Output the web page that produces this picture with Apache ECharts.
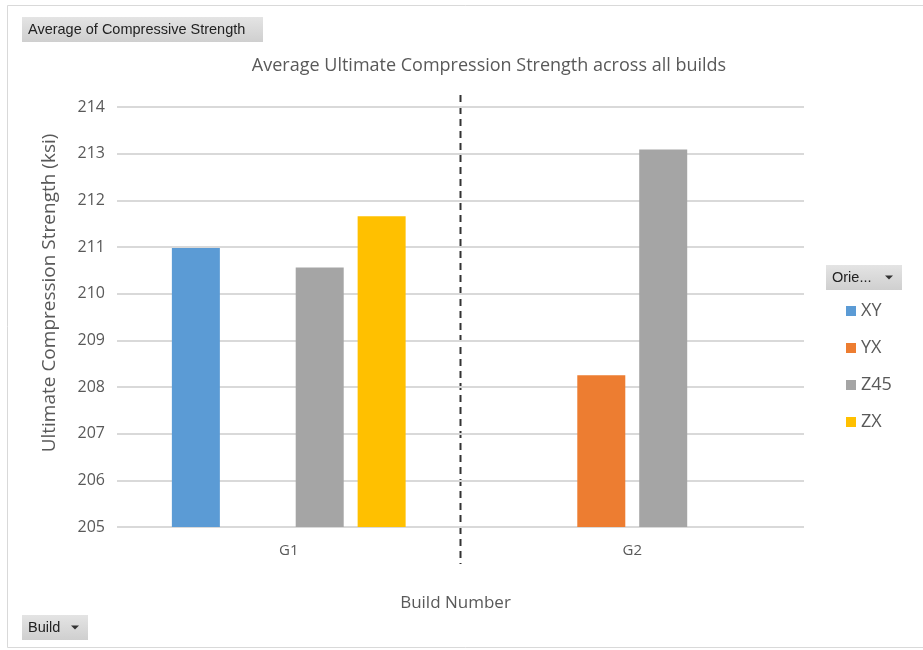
<!DOCTYPE html>
<html>
<head>
<meta charset="utf-8">
<script src="https://cdn.jsdelivr.net/npm/echarts@6/dist/echarts.min.js"></script>
<style>
  html, body { margin: 0; padding: 0; background: #fff; }
  #chart { width: 923px; height: 650px; }
</style>
</head>
<body>
<div id="chart"></div>
<script>
// Builds on the category axis
const builds = ['G1', 'G2'];
// Orientation series (null = no specimens for that build)
const orientations = ['XY', 'YX', 'Z45', 'ZX'];
const xyValues  = [210.98, null];
const yxValues  = [null, 208.25];
const z45Values = [210.56, 213.09];
const zxValues  = [211.66, null];
// Value axis range
const yMin = 205, yMax = 214, yStep = 1;

const colors = ['#5b9bd5', '#ed7d31', '#a5a5a5', '#ffc000'];
const seriesValues = [xyValues, yxValues, z45Values, zxValues];
const FONT = 'Open Sans';
const BTN_FONT = 'Liberation Sans';
const textGray = '#595959';

const chart = echarts.init(document.getElementById('chart'));

function pivotButton(x, y, w, h, label, withArrow) {
  const children = [
    { type: 'rect', shape: { x: 0, y: 0, width: w, height: h },
      style: { fill: new echarts.graphic.LinearGradient(0, 0, 0, 1, [
        { offset: 0, color: '#e4e4e4' }, { offset: 1, color: '#cfcfcf' }]) } },
    { type: 'text', x: 6, y: h / 2,
      style: { text: label, fill: '#222', font: '14.5px ' + BTN_FONT, verticalAlign: 'middle' } }
  ];
  if (withArrow) {
    children.push({ type: 'polygon',
      shape: { points: [[w - 17, h / 2 - 2], [w - 9, h / 2 - 2], [w - 13, h / 2 + 2]] },
      style: { fill: '#333' } });
  }
  return { type: 'group', x: x, y: y, children: children, silent: true };
}

const option = {
  animation: false,
  backgroundColor: '#fff',
  color: colors,
  title: {
    text: 'Average Ultimate Compression Strength across all builds',
    left: 484, top: 52, textAlign: 'center',
    textStyle: { fontFamily: FONT, fontSize: 18, fontWeight: 'normal', color: textGray }
  },
  legend: {
    orient: 'vertical', left: 841, top: 297,
    itemWidth: 10, itemHeight: 10, itemGap: 19,
    icon: 'rect',
    textStyle: { fontFamily: FONT, fontSize: 18, color: textGray },
    data: orientations
  },
  grid: { left: 117, right: 119, top: 107, bottom: 123, containLabel: false },
  xAxis: {
    type: 'category', data: builds,
    name: 'Build Number', nameLocation: 'middle', nameGap: 68,
    nameTextStyle: { fontFamily: FONT, fontSize: 17, color: textGray, padding: [0, 10, 0, 0] },
    axisLine: { show: false }, axisTick: { show: false },
    axisLabel: { fontFamily: FONT, fontSize: 15, color: textGray, margin: 16 }
  },
  yAxis: {
    type: 'value', min: yMin, max: yMax, interval: yStep,
    name: 'Ultimate Compression Strength (ksi)', nameLocation: 'middle', nameGap: 58,
    nameTextStyle: { fontFamily: FONT, fontSize: 19, color: textGray, padding: [0, 0, 0, 48] },
    axisLine: { show: false }, axisTick: { show: false },
    axisLabel: { fontFamily: FONT, fontSize: 16, color: textGray, margin: 12 },
    splitLine: { lineStyle: { color: '#d9d9d9', width: 2 } }
  },
  series: orientations.map((name, i) => ({
    name: name, type: 'bar', data: seriesValues[i],
    barWidth: 48, barGap: '29%'
  })),
  graphic: [
    { type: 'rect', shape: { x: 7.5, y: 5.5, width: 930, height: 642 },
      style: { fill: 'none', stroke: '#d9d9d9', lineWidth: 1 }, silent: true },
    pivotButton(22, 17, 241, 25, 'Average of Compressive Strength', false),
    pivotButton(22, 615, 66, 25, 'Build', true),
    pivotButton(826, 265, 76, 25, 'Orie...', true)
  ]
};
chart.setOption(option);

// Dashed separator midway between the two build categories
const p1 = chart.convertToPixel({ xAxisIndex: 0 }, 0);
const p2 = chart.convertToPixel({ xAxisIndex: 0 }, 1);
const sepX = Math.round((p1 + p2) / 2) - 0.5;
chart.setOption({
  graphic: option.graphic.concat([{
    type: 'line', shape: { x1: sepX, y1: 95, x2: sepX, y2: 564 },
    style: { stroke: '#333', lineWidth: 2, lineDash: [7, 5] }, silent: true
  }])
});
</script>
</body>
</html>
